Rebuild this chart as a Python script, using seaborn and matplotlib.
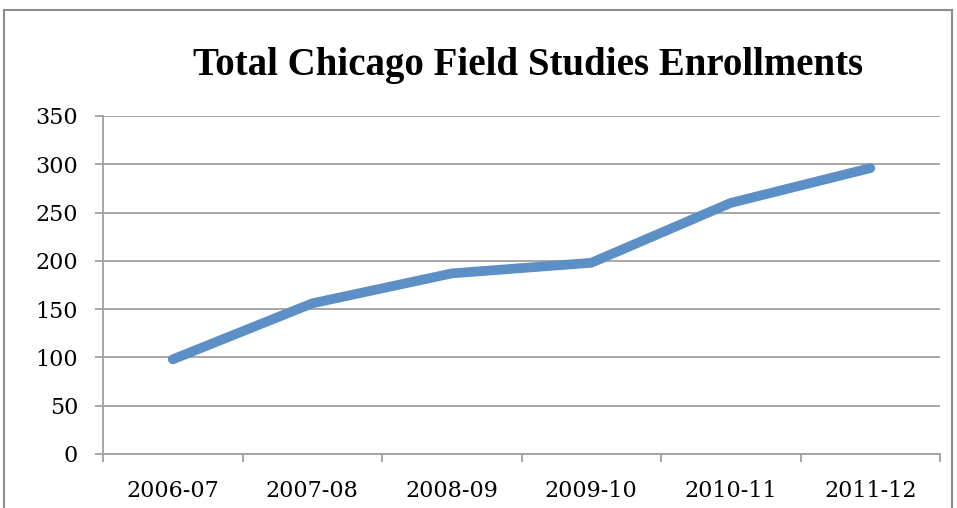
import matplotlib
matplotlib.use("Agg")
import matplotlib.pyplot as plt
import seaborn as sns
import pandas as pd
import numpy as np
from matplotlib.patches import Rectangle
from matplotlib.ticker import FixedLocator

years = ["2006-07", "2007-08", "2008-09", "2009-10", "2010-11", "2011-12"]
enrollments = [98, 156, 187, 198, 260, 296]
y_ticks = [0, 50, 100, 150, 200, 250, 300, 350]
title = "Total Chicago Field Studies Enrollments"

sns.set_theme(style="white")
plt.rcParams['font.family'] = ['DejaVu Serif', 'Liberation Serif']

W, H = 957, 508
fig = plt.figure(figsize=(W / 100, H / 100), dpi=100)
ax = fig.add_axes([103 / W, (H - 454) / H, (940 - 103) / W, (454 - 116) / H])

df = pd.DataFrame({"x": np.arange(len(years)), "year": years, "value": enrollments})
sns.lineplot(data=df, x="x", y="value", ax=ax, color="#5B8FC6", linewidth=7,
             solid_capstyle="round", solid_joinstyle="round", zorder=3)

ax.set_xlim(-0.5, len(years) - 0.5)
ax.set_ylim(0, 350)
ax.set_yticks(y_ticks)
ax.set_yticklabels([str(v) for v in y_ticks], fontsize=16, color="black")
ax.set_xticks(np.arange(len(years)))
ax.set_xticklabels(years, fontsize=16, color="black")
ax.xaxis.set_minor_locator(FixedLocator(np.arange(-0.5, len(years), 1.0)))
ax.tick_params(axis="x", which="major", length=0, pad=19)
ax.tick_params(axis="x", which="minor", length=6, width=1.3, color="#A0A0A0", direction="out", bottom=True)
ax.tick_params(axis="y", which="major", length=6, width=1.3, color="#A0A0A0", direction="out", left=True, pad=12)

ax.set_xlabel("")
ax.set_ylabel("")
ax.grid(axis="y", color="#A0A0A0", linewidth=1.3)
ax.grid(axis="x", visible=False)
for s in ["top", "right"]:
    ax.spines[s].set_visible(False)
for s in ["left", "bottom"]:
    ax.spines[s].set_color("#A0A0A0")
    ax.spines[s].set_linewidth(1.3)

fig.text(528 / W, 1 - 75 / H, title, ha="center", va="baseline",
         fontsize=28, fontweight="bold", color="black",
         family=["Liberation Serif", "DejaVu Serif"])

border = Rectangle((4 / W, -0.05), (952 - 4) / W, (H - 10) / H + 0.05,
                   transform=fig.transFigure, fill=False, edgecolor="#8C8C8C",
                   linewidth=1.5, clip_on=False)
fig.patches.append(border)

fig.savefig("out.png", dpi=100)
